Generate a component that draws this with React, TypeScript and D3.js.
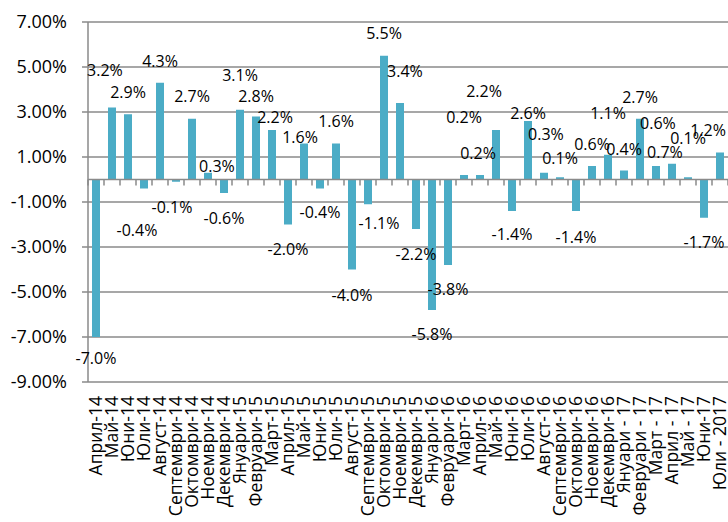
import React from "react";
import * as d3 from "d3";

const categories: string[] = [
  "Април-14", "Май-14", "Юни-14", "Юли-14", "Август-14", "Септември-14", "Октомври-14", "Ноември-14",
  "Декември-14", "Януари-15", "Февруари-15", "Март-15", "Април-15", "Май-15", "Юни-15", "Юли-15",
  "Август-15", "Септември-15", "Октомври-15", "Ноември-15", "Декември-15", "Януари-16", "Февруари-16",
  "Март-16", "Април-16", "Май-16", "Юни-16", "Юли-16", "Август-16", "Септември-16", "Октомври-16",
  "Ноември-16", "Декември-16", "Януари - 17", "Февруари - 17", "Март - 17", "Април - 17", "Май - 17",
  "Юни-17", "Юли - 2017",
];

const values: number[] = [
  -7.0, 3.2, 2.9, -0.4, 4.3, -0.1, 2.7, 0.3, -0.6, 3.1, 2.8, 2.2, -2.0, 1.6, -0.4, 1.6,
  -4.0, -1.1, 5.5, 3.4, -2.2, -5.8, -3.8, 0.2, 0.2, 2.2, -1.4, 2.6, 0.3, 0.1, -1.4,
  0.6, 1.1, 0.4, 2.7, 0.6, 0.7, 0.1, -1.7, 1.2,
];

// where each (hand-placed) data label sits, in value units
const labelAt: number[] = [
  -7.96, 4.84, 3.87, -2.27, 5.24, -1.24, 3.69, 0.58, -1.73, 4.62, 3.69, 2.76, -3.11, 1.87, -1.47, 2.58,
  -5.16, -1.96, 6.49, 4.8, -3.33, -6.89, -4.89, 2.76, 1.16, 3.91, -2.44, 2.93, 2.0, 0.93, -2.58,
  1.56, 2.93, 1.33, 3.64, 2.49, 1.2, 1.82, -2.8, 2.18,
];
// horizontal label shift, as a fraction of the category step
const labelShift: number[] = [
  0, -0.44, 0, -0.44, 0, -0.25, 0, 0.56, 0, 0, 0, 0.19, 0, -0.25, 0, 0,
  0, 0.69, 0, 0.31, 0, 0, 0, 0, -0.12, -0.75, 0, 0, 0.12, 0, 0,
  0, 0, 0, 0, 0.12, -0.44, 0, 0, -0.75,
];

const yTicks: number[] = [7, 5, 3, 1, -1, -3, -5, -7, -9];

const W = 728;
const H = 522;
const plotLeft = 88;
const plotRight = 728;
const plotTop = 22;
const plotBottom = 382;
const FONT = "'Open Sans', sans-serif";
const BAR = "#4BACC6";
const GRID = "#8A8A8A";

const hyph = (s: string) => s.replace("\u2212", "-");
const fmtTick = (t: number) => hyph(d3.format(".2f")(t)) + "%";
const fmtVal = (v: number) => hyph(d3.format(".1f")(v)) + "%";

export default function App() {
  const x = d3
    .scaleBand<string>()
    .domain(categories)
    .range([plotLeft, plotRight])
    .paddingInner(0.5)
    .paddingOuter(0.25);
  const step = x.step();
  const y = d3.scaleLinear().domain([-9, 7]).range([plotBottom, plotTop]);
  const y0 = y(0);
  const bounds = d3.range(categories.length + 1).map((i) => plotLeft + i * step);

  return (
    <svg
      width={W}
      height={H}
      style={{ position: "absolute", left: 0, top: 0, background: "#fff" }}
      fontFamily={FONT}
    >
      {yTicks.map((t) => (
        <line key={t} x1={plotLeft - 6} x2={plotRight} y1={y(t)} y2={y(t)} stroke={GRID} strokeWidth={1.5} />
      ))}
      <line x1={plotLeft} x2={plotLeft} y1={plotTop} y2={plotBottom} stroke={GRID} strokeWidth={1.5} />
      {yTicks.map((t) => (
        <text key={"t" + t} x={67} y={y(t)} dy="0.36em" textAnchor="end" fontSize={18} fill="#000">
          {fmtTick(t)}
        </text>
      ))}
      {categories.map((c, i) => {
        const v = values[i];
        return (
          <rect
            key={c}
            x={x(c)!}
            width={x.bandwidth()}
            y={Math.min(y(v), y0)}
            height={Math.abs(y(v) - y0)}
            fill={BAR}
          />
        );
      })}
      <line x1={plotLeft} x2={plotRight} y1={y0} y2={y0} stroke={GRID} strokeWidth={1.5} />
      {bounds.map((b, i) => (
        <line key={"k" + i} x1={b} x2={b} y1={y0} y2={y0 + 6} stroke={GRID} strokeWidth={1.5} />
      ))}
      {categories.map((c, i) => (
        <text
          key={"l" + c}
          x={x(c)! + x.bandwidth() / 2 + labelShift[i] * step}
          y={y(labelAt[i])}
          dy="0.36em"
          textAnchor="middle"
          fontSize={16}
          fill="#000"
        >
          {fmtVal(values[i])}
        </text>
      ))}
      {categories.map((c) => {
        const cx = x(c)! + x.bandwidth() / 2;
        return (
          <text
            key={"c" + c}
            transform={`translate(${cx},396) rotate(-90)`}
            dy="0.36em"
            textAnchor="end"
            fontSize={17.5}
            fill="#000"
          >
            {c}
          </text>
        );
      })}
    </svg>
  );
}
